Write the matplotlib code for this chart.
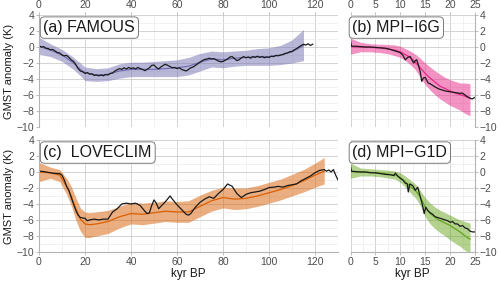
import matplotlib.pyplot as plt
import numpy as np

plt.rcParams['font.family'] = ['Liberation Sans', 'DejaVu Sans']

# FAMOUS: reconstruccion (negro) y emulador (media + banda)
famous_x = [0, 1, 2, 3, 4, 5, 6, 7, 8, 9, 10, 11, 12, 13, 14, 15, 16, 17, 18, 19,
            20, 21, 22, 23, 24, 25, 26, 27, 28, 29, 30, 31, 32, 33, 34, 35, 36, 37, 38, 39,
            40, 41, 42, 43, 44, 45, 46, 47, 48, 49, 50, 51, 52, 53, 54, 55, 56, 57, 58, 59,
            60, 61, 62, 63, 64, 65, 66, 67, 68, 69, 70, 71, 72, 73, 74, 75, 76, 77, 78, 79,
            80, 81, 82, 83, 84, 85, 86, 87, 88, 89, 90, 91, 92, 93, 94, 95, 96, 97, 98, 99,
            100, 101, 102, 103, 104, 105, 106, 107, 108, 109, 110, 111, 112, 113, 114, 115,
            116, 117, 118, 119]
famous_y = [0.15, 0.0, 0.05, -0.15, -0.2, -0.35, -0.3, -0.5, -0.7, -0.75, -1.0, -1.1, -1.05, -1.3,
            -1.6, -1.8, -2.2, -2.7, -3.0, -3.1, -3.3, -3.2, -3.4, -3.35, -3.55, -3.5, -3.6, -3.5,
            -3.6, -3.45, -3.5, -3.3, -3.25, -3.0, -2.85, -2.7, -2.8, -2.6, -2.75, -2.55, -2.7, -2.6,
            -2.75, -2.55, -2.7, -2.8, -2.95, -2.8, -2.6, -2.3, -2.25, -2.55, -2.75, -2.5, -2.3, -2.15,
            -2.3, -2.45, -2.6, -2.55, -2.7, -2.6, -2.8, -2.9, -3.0, -2.8, -2.6, -2.5, -2.3, -2.1,
            -1.9, -1.7, -1.55, -1.5, -1.4, -1.5, -1.45, -1.6, -1.75, -1.85, -1.8, -1.65, -1.5, -1.25,
            -1.2, -1.45, -1.7, -1.6, -1.35, -1.2, -1.35, -1.25, -1.4, -1.2, -1.3, -1.15, -1.3, -1.2,
            -1.35, -1.25, -1.3, -1.15, -1.2, -1.05, -1.1, -1.0, -0.95, -0.8, -0.75, -0.6, -0.55,
            -0.35, -0.2, 0.0, 0.2, 0.35, 0.25, 0.4, 0.2, 0.35]
famous_mx = [0, 5, 10, 15, 18, 20, 25, 30, 35, 40, 45, 50, 55, 60, 65, 70, 75, 80, 85, 90,
             95, 100, 105, 110, 115]
famous_mean = [0.1, -0.4, -1.0, -2.0, -2.8, -3.2, -3.5, -3.4, -3.0, -2.8, -2.8, -2.8, -2.7, -2.6,
               -2.4, -1.9, -1.5, -1.6, -1.4, -1.3, -1.2, -1.2, -1.0, -0.6, 0.2]
famous_hi = [1.2, 0.4, -0.3, -1.3, -2.0, -2.5, -2.7, -2.6, -2.1, -1.9, -1.9, -1.8, -1.7, -1.6,
             -1.3, -0.8, -0.5, -0.6, -0.5, -0.4, -0.2, -0.1, 0.2, 0.9, 2.2]
famous_lo = [-0.9, -1.2, -1.8, -2.8, -3.6, -4.2, -4.3, -4.2, -3.9, -3.7, -3.7, -3.7, -3.7, -3.7,
             -3.5, -3.0, -2.5, -2.6, -2.4, -2.3, -2.3, -2.3, -2.2, -2.0, -1.7]

# LOVECLIM
love_x = [0, 2, 4, 6, 8, 9, 10, 11, 12, 13, 14, 15, 16, 17, 18, 19, 20, 21, 22, 24, 26, 28, 30,
          32, 34, 36, 38, 40, 42, 44, 46, 47, 48, 49, 50, 51, 52, 53, 55, 57, 58, 60, 62, 64, 65,
          66, 68, 70, 72, 74, 76, 78, 80, 82, 84, 86, 88, 90, 92, 94, 96, 98, 100, 102, 104, 106,
          108, 110, 112, 114, 116, 118, 120, 122, 124, 125, 126, 127, 128, 129, 130]
love_y = [0.1, 0.05, -0.05, -0.15, -0.2, -0.2, -0.4, -1.0, -1.8, -2.3, -3.2, -4.0, -4.8, -5.4,
          -5.7, -5.75, -5.8, -6.1, -6.0, -5.9, -6.0, -5.9, -5.9, -5.0, -4.6, -4.0, -3.9, -4.0,
          -3.9, -4.2, -4.9, -5.2, -5.1, -4.2, -3.5, -3.9, -4.6, -4.3, -3.7, -3.0, -3.4, -4.1,
          -4.7, -5.3, -5.4, -5.2, -4.4, -3.8, -3.4, -3.1, -3.3, -2.7, -2.2, -1.5, -1.8, -2.7,
          -3.2, -2.8, -2.6, -2.5, -2.4, -2.2, -1.95, -1.9, -1.8, -1.9, -1.7, -1.6, -1.5, -1.1,
          -0.8, -0.5, -0.1, 0.2, 0.3, 0.1, 0.25, 0.0, 0.3, -0.4, -1.0]
love_mx = [0, 5, 9, 12, 14, 16, 18, 20, 22, 25, 30, 35, 40, 45, 50, 55, 60, 65, 70, 75, 80, 85,
           90, 95, 100, 105, 110, 115, 120, 124]
love_mean = [0.0, -0.1, -0.4, -1.8, -3.0, -4.6, -5.9, -6.5, -6.6, -6.5, -6.2, -5.6, -5.2, -5.3,
             -5.1, -4.9, -5.0, -5.0, -4.3, -3.6, -3.2, -3.4, -3.3, -3.0, -2.6, -2.2, -1.7, -1.1,
             -0.4, 0.1]
love_hi = [1.2, 0.6, 0.3, -0.8, -1.8, -3.2, -4.5, -5.0, -5.1, -5.0, -4.8, -4.3, -3.8, -3.9, -3.8,
           -3.6, -3.7, -3.6, -2.9, -2.3, -1.9, -2.0, -2.0, -1.7, -1.3, -0.9, -0.3, 0.3, 1.1, 1.8]
love_lo = [-1.2, -0.8, -1.2, -2.8, -4.2, -6.0, -7.4, -8.2, -8.2, -8.0, -7.7, -7.0, -6.5, -6.6,
           -6.4, -6.2, -6.3, -6.3, -5.6, -4.9, -4.5, -4.7, -4.6, -4.3, -3.9, -3.5, -3.0, -2.5,
           -1.9, -1.5]

# MPI-I6G
i6g_x = [0, 0.2, 1, 2, 3, 4, 5, 6, 7, 8, 9, 10, 10.5, 11, 11.5, 12, 12.4, 12.7, 13, 13.3, 13.7,
         14, 14.3, 14.6, 15, 15.6, 16, 17, 17.6, 18, 19, 20, 21, 22, 22.4, 23, 23.4, 24, 24.4, 25]
i6g_y = [0.7, 0.1, 0.1, 0.05, 0.0, 0.0, -0.05, -0.1, -0.15, -0.3, -0.5, -0.7, -1.0, -1.6, -1.3,
         -1.2, -1.7, -2.0, -1.7, -1.6, -2.4, -3.1, -4.3, -3.9, -3.8, -4.5, -4.6, -5.0, -5.2, -5.3,
         -5.5, -5.6, -5.7, -5.8, -5.75, -6.0, -6.2, -6.4, -6.5, -6.3]
mpi_mx = [0, 2, 4, 6, 8, 9, 10, 11, 12, 13, 14, 15, 16, 17, 18, 19, 20, 21, 22, 23, 24]
i6g_mean = [0.05, 0.0, -0.05, -0.1, -0.3, -0.4, -0.6, -0.95, -1.3, -1.9, -2.6, -3.3, -3.9, -4.4,
            -4.9, -5.2, -5.5, -5.75, -5.95, -6.15, -6.4]
i6g_hi = [1.1, 0.6, 0.4, 0.35, 0.3, 0.25, 0.1, -0.2, -0.5, -0.9, -1.4, -2.0, -2.5, -3.0, -3.4,
          -3.8, -4.1, -4.3, -4.5, -4.5, -4.6]
i6g_lo = [-0.9, -0.6, -0.6, -0.7, -0.9, -1.1, -1.3, -1.7, -2.2, -2.8, -3.8, -4.7, -5.4, -6.0,
          -6.5, -6.9, -7.3, -7.6, -7.9, -8.3, -8.6]

# MPI-G1D
g1d_x = [0, 0.2, 1, 2, 3, 4, 5, 6, 7, 8, 8.7, 9, 9.5, 10, 10.5, 11, 11.4, 11.6, 11.9, 12.5, 13,
         13.5, 14, 14.4, 14.8, 15.1, 15.5, 16, 16.5, 17, 17.5, 18, 18.5, 19, 19.5, 20, 20.5, 21,
         21.5, 22, 22.5, 23, 23.5, 24, 24.5, 25]
g1d_y = [0.7, 0.1, 0.05, 0.0, 0.0, -0.1, -0.1, -0.2, -0.3, -0.35, -0.45, -0.15, -0.5, -0.8, -1.0,
         -1.4, -1.5, -2.5, -1.5, -1.7, -2.3, -1.9, -3.1, -4.0, -5.2, -4.4, -4.8, -5.1, -5.3, -5.6,
         -5.7, -5.8, -5.9, -6.0, -6.1, -6.3, -6.2, -6.5, -6.5, -6.8, -6.7, -7.0, -7.1, -7.4, -7.5,
         -7.5]
g1d_mean = [0.05, 0.0, -0.05, -0.15, -0.3, -0.4, -0.7, -1.2, -1.8, -2.3, -3.1, -4.4, -5.2, -5.7,
            -6.1, -6.4, -6.7, -7.1, -7.5, -8.0, -8.4]
g1d_hi = [1.1, 0.5, 0.4, 0.3, 0.2, 0.1, -0.1, -0.5, -1.0, -1.5, -2.3, -3.2, -3.9, -4.4, -4.8,
          -5.1, -5.4, -5.7, -6.0, -6.2, -6.4]
g1d_lo = [-0.8, -0.5, -0.5, -0.6, -0.8, -0.9, -1.3, -1.9, -2.6, -3.2, -4.2, -5.6, -6.5, -7.1,
          -7.6, -8.0, -8.5, -8.9, -9.3, -9.8, -10.2]

paneles = [
    ('(a) FAMOUS', famous_x, famous_y, famous_mx, famous_mean, famous_lo, famous_hi, '#7570b3'),
    ('(b) MPI\u2212I6G', i6g_x, i6g_y, mpi_mx, i6g_mean, i6g_lo, i6g_hi, '#e7298a'),
    ('(c)  LOVECLIM', love_x, love_y, love_mx, love_mean, love_lo, love_hi, '#d95f02'),
    ('(d) MPI\u2212G1D', g1d_x, g1d_y, mpi_mx, g1d_mean, g1d_lo, g1d_hi, '#66a61e'),
]

fig = plt.figure(figsize=(5, 2.84), dpi=100)
posiciones = [
    [0.078, 0.553, 0.598, 0.394],
    [0.701, 0.553, 0.249, 0.394],
    [0.078, 0.113, 0.598, 0.394],
    [0.701, 0.113, 0.249, 0.394],
]
gris = '#4d4d4d'

for i, (titulo, x, y, mx, mean, lo, hi, col) in enumerate(paneles):
    ax = fig.add_axes(posiciones[i])
    ax.fill_between(mx, lo, hi, color=col, alpha=0.5, lw=0)
    ax.plot(mx, mean, color=col, lw=0.9)
    ax.plot(x, y, color='#1a1a1a', lw=0.9)

    izquierda = i in (0, 2)
    arriba = i in (0, 1)
    if izquierda:
        ax.set_xlim(0, 130)
        ax.set_xticks([0, 20, 40, 60, 80, 100, 120])
        ax.set_xticks(np.arange(10, 131, 20), minor=True)
    else:
        ax.set_xlim(0, 25)
        ax.set_xticks([0, 5, 10, 15, 20, 25])
        ax.set_xticks([2.5, 7.5, 12.5, 17.5, 22.5], minor=True)
    ax.set_ylim(-10, 4)
    ax.set_yticks([-10, -8, -6, -4, -2, 0, 2, 4])
    ax.set_yticks([-9, -7, -5, -3, -1, 1, 3], minor=True)

    ax.grid(which='major', color='#cccccc', lw=0.6)
    ax.grid(which='minor', color='#ebebeb', lw=0.5)
    ax.set_axisbelow(True)
    for s in ax.spines.values():
        s.set_visible(False)

    if arriba:
        ax.xaxis.tick_top()
    else:
        ax.set_xlabel('kyr BP', fontsize=8.5, color='#1a1a1a', labelpad=1)
        ax.spines['bottom'].set_visible(True)
        ax.spines['bottom'].set_color('#b3b3b3')
    if izquierda:
        ax.set_ylabel('GMST anomaly (K)', fontsize=8, color='#1a1a1a', labelpad=1.5)
        ax.spines['left'].set_visible(True)
        ax.spines['left'].set_color('#b3b3b3')
    else:
        ax.yaxis.tick_right()
        ax.spines['right'].set_visible(True)
        ax.spines['right'].set_color('#b3b3b3')

    ax.tick_params(which='major', labelsize=7.5, colors=gris, length=2.5, width=0.6, pad=1)
    ax.tick_params(which='minor', length=0)
    ax.tick_params(axis='both', which='major', color='#b3b3b3')

    ax.text(0.015, 0.955, titulo, transform=ax.transAxes, fontsize=11.5, va='top', ha='left',
            color='#1a1a1a',
            bbox=dict(boxstyle='round,pad=0.2,rounding_size=0.25', fc='white', ec='#666666', lw=0.6))

fig.savefig('out.png', dpi=100)
